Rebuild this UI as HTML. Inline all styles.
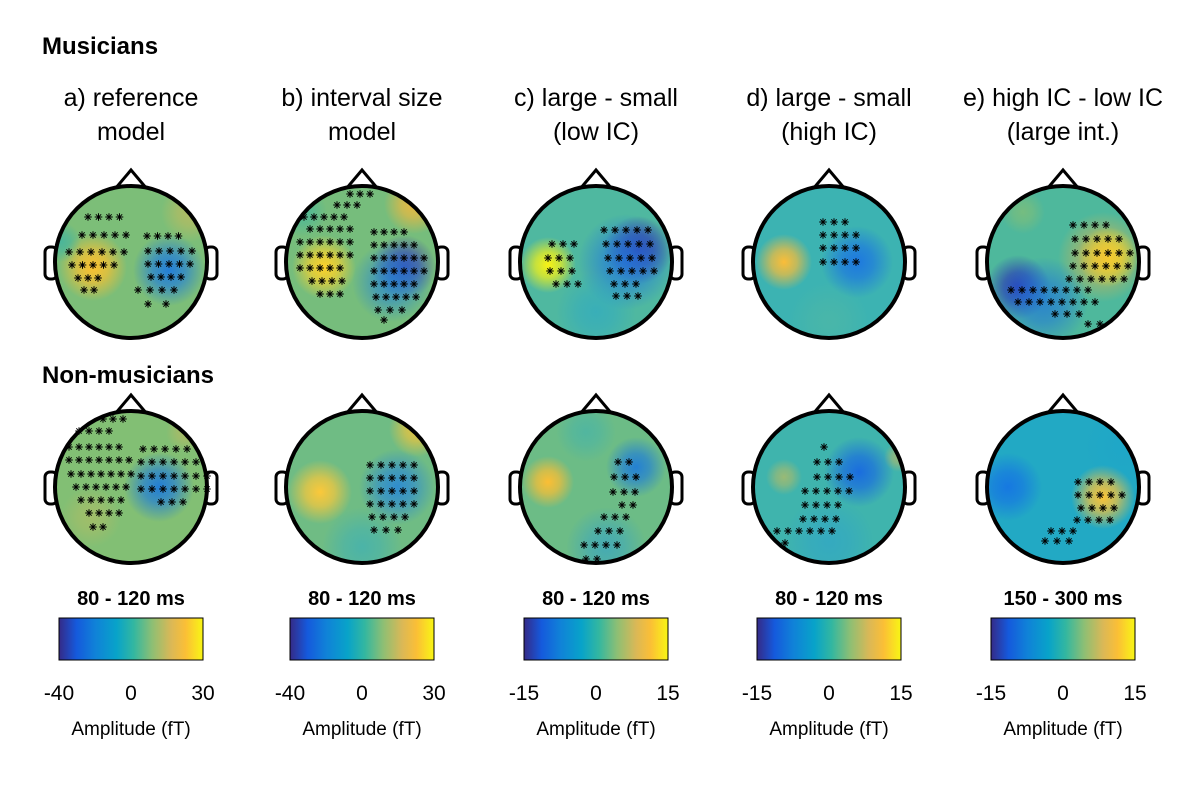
<!DOCTYPE html>
<html><head><meta charset="utf-8"><style>
body{margin:0;background:#fff;}
svg{display:block;font-family:"Liberation Sans",sans-serif;}
</style></head><body>
<svg id="fig" width="1200" height="786" viewBox="0 0 1200 786">
<defs>
<linearGradient id="parula" x1="0" x2="1" y1="0" y2="0">
<stop offset="0" stop-color="#352a87"/><stop offset="0.12" stop-color="#1559dc"/><stop offset="0.25" stop-color="#1081d8"/><stop offset="0.4" stop-color="#08a3c9"/><stop offset="0.52" stop-color="#33b7a0"/><stop offset="0.65" stop-color="#8fbf73"/><stop offset="0.78" stop-color="#dbb856"/><stop offset="0.88" stop-color="#fbbf36"/><stop offset="1" stop-color="#f8f614"/>
</linearGradient>
</defs>
<text x="42" y="54" font-size="24" font-weight="bold">Musicians</text>
<text x="42" y="383" font-size="24" font-weight="bold">Non-musicians</text>
<g id="heads"></g>
</svg>
<script>
const colX=[131,362,596,829,1063];
const rowY=[262,487];
const titles1=["a) reference","b) interval size","c) large - small","d) large - small","e) high IC - low IC"];
const titles2=["model","model","(low IC)","(high IC)","(large int.)"];
const windows=["80 - 120 ms","80 - 120 ms","80 - 120 ms","80 - 120 ms","150 - 300 ms"];
const tickLo=["-40","-40","-15","-15","-15"];
const tickHi=["30","30","15","15","15"];
const bgColors=[["#7cbe78","#76bd7c","#4fb8a0","#3cb3b2","#4eb89c"],["#82bf74","#6fbc84","#6cbc86","#3fb4ad","#22a9c4"]];
// blobs: [dx, dy, radius, color, opacity]
const blobs=[
[[[-38,5,34,"#fbc02f",1],[38,8,36,"#1a78e2",0.9],[60,-50,30,"#c9bb5a",0.7],[-70,-20,20,"#2ab0b0",0.6]],
 [[-38,5,32,"#fcd22a",1],[42,5,32,"#3a3aae",0.9],[30,20,40,"#1b7ee0",0.7],[52,-58,30,"#f3b83c",0.9],[-60,-50,25,"#36b5a6",0.6]],
 [[-48,3,28,"#f8f214",1],[42,-12,34,"#3a2e9a",1],[30,0,48,"#1f76e0",0.8],[0,50,40,"#2aa8c8",0.6]],
 [[-45,0,28,"#fbbd38",1],[28,0,36,"#1a72e4",0.9],[0,60,40,"#56b9a0",0.5]],
 [[45,-5,30,"#f9f216",1],[40,-5,45,"#f3b43c",0.7],[-45,25,32,"#2d3fb2",1],[-20,40,45,"#1b6fe0",0.7],[-40,-50,22,"#86bf74",0.7]]],
[[[28,0,35,"#1877e0",0.9],[-40,30,30,"#b5bc62",0.6],[55,-55,20,"#d1b75a",0.5]],
 [[-42,5,32,"#fbc83a",1],[35,0,38,"#2081e0",0.8],[55,-58,28,"#f2c43a",0.9],[0,60,40,"#33aec0",0.6]],
 [[-48,-5,26,"#fbbe34",1],[40,-20,30,"#1776e0",0.85],[10,60,40,"#2b9fd0",0.6],[-10,-55,30,"#3fb2b0",0.6]],
 [[30,-15,35,"#1665e4",0.9],[-45,-10,18,"#c0bc5e",0.7],[70,-30,15,"#d7b955",0.6],[0,55,45,"#2a9fd2",0.5]],
 [[-55,0,34,"#1573e4",0.9],[40,10,32,"#fbc338",1],[60,-40,40,"#1aa3cc",0.4]]]
];
// stars: rows of [dy, dx0, dx-step, count]
const stars=[
[[[-45,-43,10.5,4],[-27,-49,11,5],[-10,-62,11,6],[3,-59,10.5,5],[16,-53,10,3],[28,-47,10,2],[-26,16,10.5,4],[-11,17,11,5],[2,17,10.5,5],[15,20,10,4],[28,7,12,4],[42,17,18,2]],
 [[-68,-12,10,3],[-57,-25,10,3],[-45,-58,10,5],[-33,-52,10,5],[-20,-62,10,6],[-7,-62,10,6],[6,-62,10,5],[19,-50,10,4],[32,-42,10,3],[-30,12,10,4],[-17,12,10,5],[-4,12,10,6],[9,12,10,6],[22,12,10,5],[35,14,10,5],[48,16,12,3],[58,22,10,1]],
 [[-18,-44,11,3],[-4,-48,11,3],[9,-46,11,3],[22,-40,11,3],[-32,8,11,5],[-18,10,11,5],[-4,12,11,5],[9,14,11,5],[22,18,11,3],[34,20,11,3]],
 [[-40,-6,11,3],[-27,-6,11,4],[-14,-6,11,4],[0,-6,11,4]],
 [[-37,10,11,4],[-23,12,11,5],[-9,12,11,6],[4,10,11,6],[17,6,11,6],[28,-52,11,8],[40,-45,11,8],[52,-8,12,3],[62,25,12,2]]],
[[[-68,-28,10,3],[-56,-52,10,4],[-40,-62,10,6],[-27,-62,10,7],[-13,-60,10,7],[0,-55,10,6],[13,-50,10,5],[26,-42,10,4],[40,-38,10,2],[-38,12,11,5],[-25,10,11,6],[-11,10,11,7],[2,10,11,7],[15,30,11,3]],
 [[-22,8,11,5],[-9,8,11,5],[4,8,11,5],[17,8,11,5],[30,10,11,4],[43,12,12,3]],
 [[-25,22,11,2],[-10,18,11,3],[5,17,11,3],[18,26,11,2],[30,8,11,3],[44,2,11,3],[58,-12,11,4],[72,-10,11,2]],
 [[-40,-5,11,1],[-25,-12,11,3],[-10,-12,11,4],[4,-24,11,5],[18,-24,11,4],[32,-26,11,4],[44,-52,11,6],[56,-44,11,1]],
 [[-5,15,11,4],[8,15,11,5],[21,18,11,4],[33,14,11,4],[44,-12,11,3],[54,-18,12,3]]]
];
const NS="http://www.w3.org/2000/svg";
const root=document.getElementById('heads');
function mk(t,a,p){const e=document.createElementNS(NS,t);for(const k in a)e.setAttribute(k,a[k]);(p||root).appendChild(e);return e;}
const R=76;
let gid=0;
const defs=document.querySelector('defs');
for(let c=0;c<5;c++){
  const cx=colX[c];
  const t1=mk('text',{x:cx,y:106,'font-size':25,'text-anchor':'middle'});t1.textContent=titles1[c];
  
  
  const t2=mk('text',{x:cx,y:140,'font-size':25,'text-anchor':'middle'});t2.textContent=titles2[c];
  
  
  for(let r=0;r<2;r++){
    const cy=rowY[r];
    const g=mk('g',{});
    
    
    const id='clip'+(gid++);
    const cp=mk('clipPath',{id:id},defs);mk('circle',{cx:cx,cy:cy,r:R},cp);
    mk('path',{d:`M${cx-16} ${cy-R+3} L${cx} ${cy-R-16} L${cx+16} ${cy-R+3}`,fill:'none',stroke:'#000','stroke-width':3},g);
    mk('rect',{x:cx-R-10,y:cy-15,width:12,height:32,rx:5,fill:'none',stroke:'#000','stroke-width':3},g);
    mk('rect',{x:cx+R-2,y:cy-15,width:12,height:32,rx:5,fill:'none',stroke:'#000','stroke-width':3},g);
    const inner=mk('g',{'clip-path':`url(#${id})`},g);
    mk('rect',{x:cx-R,y:cy-R,width:2*R,height:2*R,fill:bgColors[r][c]},inner);
    blobs[r][c].forEach(b=>{
      const gidn='rg'+(gid++);
      const rg=mk('radialGradient',{id:gidn},defs);
      mk('stop',{offset:0,'stop-color':b[3],'stop-opacity':b[4]},rg);
      mk('stop',{offset:0.45,'stop-color':b[3],'stop-opacity':b[4]*0.7},rg);
      mk('stop',{offset:1,'stop-color':b[3],'stop-opacity':0},rg);
      mk('circle',{cx:cx+b[0],cy:cy+b[1],r:b[2],fill:`url(#${gidn})`},inner);
    });
    mk('circle',{cx:cx,cy:cy,r:R,fill:'none',stroke:'#000','stroke-width':4},g);
    stars[r][c].forEach(row=>{
      for(let k=0;k<row[3];k++){
        const sx=cx+row[1]+k*row[2], sy=cy+row[0];
        const s=mk('g',{stroke:'#000','stroke-width':1},g);
        
        
        for(let a=0;a<4;a++){const an=a*Math.PI/4;mk('line',{x1:sx-3.8*Math.cos(an),y1:sy-3.8*Math.sin(an),x2:sx+3.8*Math.cos(an),y2:sy+3.8*Math.sin(an)},s);}
      }
    });
  }
  const bx=cx-72;
  const wt=mk('text',{x:cx,y:605,'font-size':20,'font-weight':'bold','text-anchor':'middle'});wt.textContent=windows[c];
  
  
  const cb=mk('rect',{x:bx,y:618,width:144,height:42,fill:'url(#parula)',stroke:'#000','stroke-width':1});
  
  
  const vals=[tickLo[c],"0",tickHi[c]];
  vals.forEach((v,i)=>{
    const x=bx+i*72;
    const tt=mk('text',{x:x,y:700,'font-size':21,'text-anchor':'middle'});tt.textContent=v;
    
    
  });
  const al=mk('text',{x:cx,y:735,'font-size':19,'text-anchor':'middle'});al.textContent='Amplitude (fT)';
  
  
}
</script>
</body></html>
